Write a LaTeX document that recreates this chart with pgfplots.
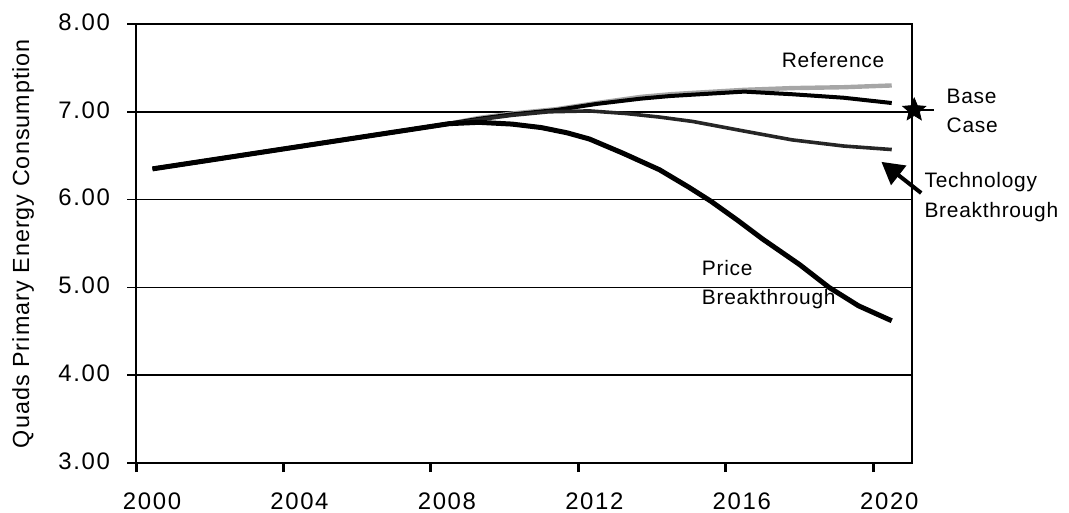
\documentclass[border=0pt]{standalone}
\usepackage{fontspec}
\setmainfont{Liberation Sans}
\newfontfamily\tickfont[LetterSpace=7]{Liberation Sans}
\newfontfamily\labfont[LetterSpace=3.5]{Liberation Sans}
\newfontfamily\ylabfont[LetterSpace=4.5]{Liberation Sans}
\usepackage{pgfplots}
\usepackage{pgfplotstable}
\pgfplotsset{compat=1.18}
\usetikzlibrary{arrows.meta}

\pgfdeclareplotmark{fstar}{%
  \pgfpathmoveto{\pgfpointpolar{90}{\pgfplotmarksize}}%
  \pgfpathlineto{\pgfpointpolar{126}{0.45\pgfplotmarksize}}%
  \pgfpathlineto{\pgfpointpolar{162}{\pgfplotmarksize}}%
  \pgfpathlineto{\pgfpointpolar{198}{0.45\pgfplotmarksize}}%
  \pgfpathlineto{\pgfpointpolar{234}{\pgfplotmarksize}}%
  \pgfpathlineto{\pgfpointpolar{270}{0.45\pgfplotmarksize}}%
  \pgfpathlineto{\pgfpointpolar{306}{\pgfplotmarksize}}%
  \pgfpathlineto{\pgfpointpolar{342}{0.45\pgfplotmarksize}}%
  \pgfpathlineto{\pgfpointpolar{18}{\pgfplotmarksize}}%
  \pgfpathlineto{\pgfpointpolar{54}{0.45\pgfplotmarksize}}%
  \pgfpathclose
  \pgfusepathqfillstroke}

\pgfplotstableread{
x y
2000.45 6.35
2002 6.449
2004 6.577
2006 6.705
2008 6.833
2008.5 6.865
2009.3 6.88
2010.2 6.86
2011 6.82
2011.7 6.76
2012.3 6.69
2013.2 6.53
2014.2 6.34
2015 6.14
2015.6 5.98
2016.3 5.77
2017 5.55
2018 5.26
2018.8 5.00
2019.6 4.79
2020.5 4.62
}\price

\pgfplotstableread{
x y
2000.45 6.35
2002 6.449
2004 6.577
2006 6.705
2008 6.833
2008.5 6.865
2009.3 6.93
2010.2 6.98
2011.4 7.03
2012.5 7.10
2013.7 7.17
2014.5 7.20
2015.3 7.22
2016.5 7.25
2017.8 7.27
2019.2 7.28
2020.5 7.30
}\reference

\pgfplotstableread{
x y
2000.45 6.35
2002 6.449
2004 6.577
2006 6.705
2008 6.833
2008.5 6.865
2009.3 6.92
2010.2 6.97
2011.4 7.02
2012.5 7.09
2013.7 7.15
2014.5 7.18
2015.3 7.20
2016.5 7.23
2017.8 7.20
2019.2 7.16
2020.5 7.10
}\basecase

\pgfplotstableread{
x y
2000.45 6.35
2002 6.449
2004 6.577
2006 6.705
2008 6.833
2008.5 6.865
2009.3 6.91
2010.2 6.96
2011.2 7.00
2012.3 7.01
2013.3 6.98
2014.2 6.94
2015.1 6.89
2016.5 6.78
2017.8 6.68
2019.2 6.61
2020.5 6.57
}\technology

\begin{document}
\begin{tikzpicture}
\begin{axis}[
  scale only axis, width=388bp, height=219.5bp,
  xmin=2000, xmax=2021.05, ymin=3, ymax=8,
  xtick={2000,2004,...,2020}, ytick={3,4,...,8},
  xticklabel={\tickfont\fontsize{12}{14}\selectfont\pgfmathprintnumber[1000 sep={}]{\tick}},
  yticklabel={\tickfont\fontsize{12}{14}\selectfont\pgfmathprintnumber[fixed, fixed zerofill, precision=2]{\tick}},
  /pgf/number format/assume math mode=true,
  xticklabel style={yshift=-7bp, xshift=8bp},
  yticklabel style={yshift=1bp, xshift=-5bp},
  ymajorgrids, grid style={black, line width=0.75bp},
  axis line style={black, line width=1bp},
  tick align=outside, xtick pos=bottom, ytick pos=left,
  major tick length=4.5bp,
  xtick style={black, line width=1.5bp},
  ytick style={black, line width=0.75bp},
  ylabel={Quads Primary Energy Consumption},
  ylabel style={at={(axis description cs:-0.1456,0.5)}, anchor=center, rotate=0, font=\ylabfont\fontsize{11.7}{13}\selectfont},
  clip=false,
]
\addplot[gray!70, line width=2.2bp] table {\reference};
\addplot[black, line width=2bp] table {\basecase};
\addplot[black!85, line width=1.8bp] table {\technology};
\addplot[black, line width=2.5bp] table {\price};
\addplot[only marks, mark=fstar, mark size=6bp, black] coordinates {(2021.11,7.02)};
\draw[black, line width=1bp] (axis cs:2021.1,7.02) -- (axis cs:2021.65,7.02);
\draw[black, line width=2bp, -{Triangle[length=11bp, width=12bp]}] (axis cs:2021.3,6.075) -- (axis cs:2020.22,6.43);
\begin{scope}[every node/.style={inner sep=0pt, anchor=base west, font=\labfont\fontsize{10.5}{12}\selectfont}]
\node at (axis cs:2017.51,7.50) {Reference};
\node at (axis cs:2021.98,7.10) {Base};
\node at (axis cs:2021.98,6.76) {Case};
\node at (axis cs:2021.38,6.14) {Technology};
\node at (axis cs:2021.38,5.80) {Breakthrough};
\node at (axis cs:2015.34,5.14) {Price};
\node at (axis cs:2015.34,4.80) {Breakthrough};
\end{scope}
\end{axis}
\pgfresetboundingbox
\path[use as bounding box] (-68bp,-25bp) rectangle (466.5bp,231.5bp);
\end{tikzpicture}
\end{document}
